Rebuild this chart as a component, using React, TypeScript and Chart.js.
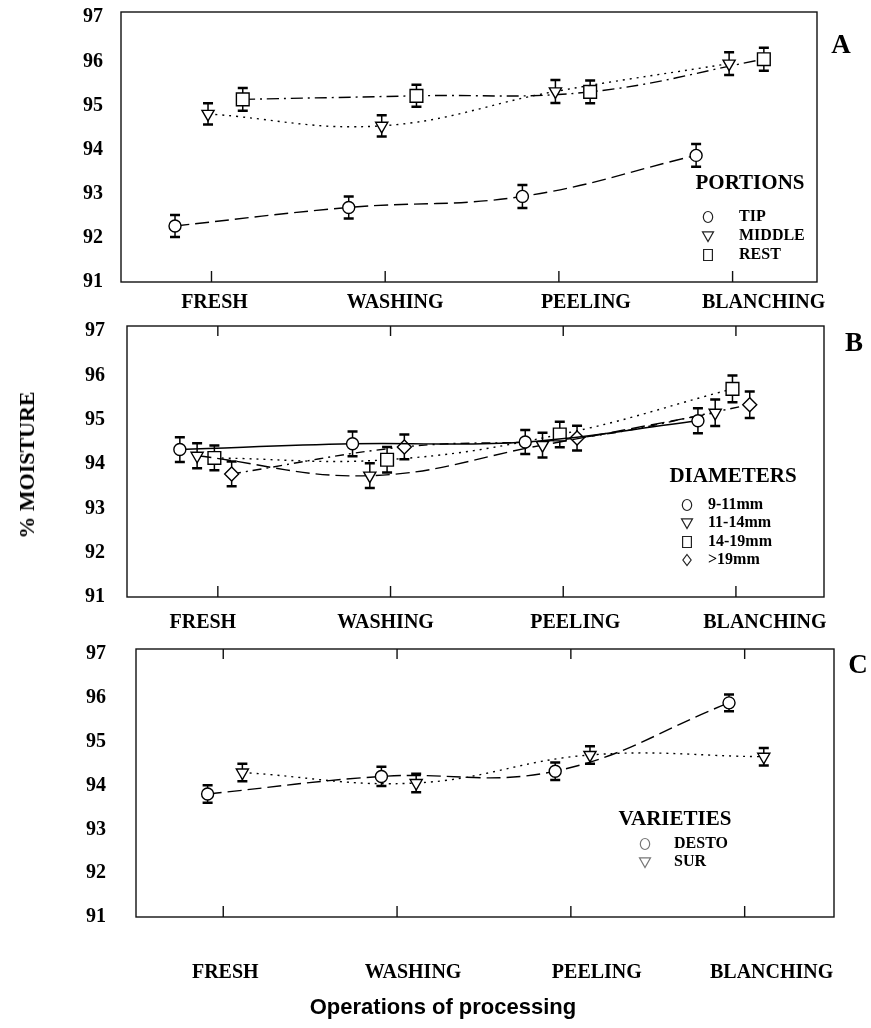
import React, { useEffect, useRef } from 'react';
import { Chart, registerables } from 'chart.js';
Chart.register(...registerables);

// ---------- data ----------
const CATEGORIES = ['FRESH', 'WASHING', 'PEELING', 'BLANCHING'];
const Y_TICKS = [91, 92, 93, 94, 95, 96, 97];

// Panel A – portions
const A_LABELS = ['TIP', 'MIDDLE', 'REST'];
const A_TIP = [92.27, 92.69, 92.94, 93.87];
const A_TIP_ERR = [0.25, 0.25, 0.26, 0.26];
const A_MIDDLE = [94.81, 94.54, 95.32, 95.95];
const A_MIDDLE_ERR = [0.24, 0.24, 0.26, 0.26];
const A_REST = [95.14, 95.22, 95.31, 96.05];
const A_REST_ERR = [0.26, 0.25, 0.26, 0.26];

// Panel B – diameters
const B_LABELS = ['9-11mm', '11-14mm', '14-19mm', '>19mm'];
const B_9_11 = [94.33, 94.46, 94.5, 94.98];
const B_9_11_ERR = [0.28, 0.28, 0.27, 0.28];
const B_11_14 = [94.19, 93.74, 94.43, 95.16];
const B_11_14_ERR = [0.28, 0.28, 0.28, 0.3];
const B_14_19 = [94.14, 94.1, 94.67, 95.7];
const B_14_19_ERR = [0.28, 0.29, 0.29, 0.3];
const B_19 = [93.78, 94.39, 94.59, 95.34];
const B_19_ERR = [0.28, 0.28, 0.28, 0.3];

// Panel C – varieties
const C_LABELS = ['DESTO', 'SUR'];
const C_DESTO = [93.81, 94.21, 94.33, 95.89];
const C_DESTO_ERR = [0.2, 0.22, 0.2, 0.19];
const C_SUR = [94.3, 94.06, 94.7, 94.66];
const C_SUR_ERR = [0.2, 0.21, 0.2, 0.2];

// ---------- styles ----------
const SERIF = '"Liberation Serif", "Times New Roman", serif';
const SANS = '"Liberation Sans", Arial, sans-serif';

type SeriesStyle = { shape: 'circle' | 'triangle' | 'rect' | 'rectRot'; dash: number[]; offset: number };

const SOLID: number[] = [];
const LONG_DASH = [14, 6];
const DOTTED = [2, 5];
const DASH_DOT = [12, 5, 2, 5];
const MED_DASH = [9, 5, 2, 5];

function drawShape(ctx: CanvasRenderingContext2D, shape: string, x: number, y: number, r: number) {
  ctx.beginPath();
  if (shape === 'circle') {
    ctx.ellipse(x, y, r * 0.85, r, 0, 0, Math.PI * 2);
  } else if (shape === 'triangle') {
    ctx.moveTo(x - r, y - r * 0.75);
    ctx.lineTo(x + r, y - r * 0.75);
    ctx.lineTo(x, y + r);
    ctx.closePath();
  } else if (shape === 'rect') {
    ctx.rect(x - r * 0.8, y - r, r * 1.6, r * 2);
  } else {
    ctx.moveTo(x, y - r);
    ctx.lineTo(x + r * 0.75, y);
    ctx.lineTo(x, y + r);
    ctx.lineTo(x - r * 0.75, y);
    ctx.closePath();
  }
  ctx.fillStyle = '#fff';
  ctx.fill();
  ctx.stroke();
}

type PanelProps = {
  top: number;
  height: number;
  area: { left: number; right: number; top: number; bottom: number };
  xMin: number;
  xMax: number;
  yTickPad: number;
  labelY: number;
  labelShift: number[];
  topTicks: boolean;
  series: { label: string; values: number[]; errors: number[]; style: SeriesStyle }[];
  legend: { title: string; titleX: number; titleY: number; symX: number; textX: number; ys: number[]; symColor: string };
};

function Panel(p: PanelProps) {
  const ref = useRef<HTMLCanvasElement | null>(null);
  useEffect(() => {
    if (!ref.current) return;
    const W = 871;
    const decoPlugin = {
      id: 'deco',
      beforeDatasetsDraw(chart: any) {
        const ctx = chart.ctx as CanvasRenderingContext2D;
        const a = chart.chartArea;
        const xs = chart.scales.x;
        const ys = chart.scales.y;
        ctx.save();
        // frame
        ctx.strokeStyle = '#111';
        ctx.lineWidth = 1.4;
        ctx.strokeRect(a.left, a.top, a.right - a.left, a.bottom - a.top);
        // inner category ticks
        CATEGORIES.forEach((_, i) => {
          const x = xs.getPixelForValue(i + 1);
          ctx.beginPath();
          ctx.moveTo(x, a.bottom);
          ctx.lineTo(x, a.bottom - 11);
          if (p.topTicks) {
            ctx.moveTo(x, a.top);
            ctx.lineTo(x, a.top + 10);
          }
          ctx.stroke();
        });
        // category labels
        ctx.fillStyle = '#000';
        ctx.font = `bold 20px ${SERIF}`;
        ctx.textAlign = 'center';
        ctx.textBaseline = 'middle';
        CATEGORIES.forEach((c, i) => {
          const x = xs.getPixelForValue(i + 1) + p.labelShift[i];
          ctx.fillText(c, x, p.labelY - p.top);
        });
        // error bars
        chart.data.datasets.forEach((ds: any, di: number) => {
          const meta = chart.getDatasetMeta(di);
          meta.data.forEach((pt: any, i: number) => {
            const v = ds.data[i].y;
            const e = ds.errors[i];
            const y1 = ys.getPixelForValue(v + e);
            const y2 = ys.getPixelForValue(v - e);
            ctx.strokeStyle = '#000';
            ctx.lineWidth = 1.5;
            ctx.setLineDash([]);
            ctx.beginPath();
            ctx.moveTo(pt.x, y1);
            ctx.lineTo(pt.x, y2);
            ctx.stroke();
            ctx.lineWidth = 2.5;
            ctx.beginPath();
            ctx.moveTo(pt.x - 5, y1);
            ctx.lineTo(pt.x + 5, y1);
            ctx.moveTo(pt.x - 5, y2);
            ctx.lineTo(pt.x + 5, y2);
            ctx.stroke();
          });
        });
        ctx.restore();
      },
      afterDraw(chart: any) {
        const ctx = chart.ctx as CanvasRenderingContext2D;
        const L = p.legend;
        ctx.save();
        ctx.fillStyle = '#000';
        ctx.font = `bold 21px ${SERIF}`;
        ctx.textAlign = 'center';
        ctx.textBaseline = 'middle';
        ctx.fillText(L.title, L.titleX, L.titleY - p.top);
        ctx.font = `bold 16px ${SERIF}`;
        ctx.textAlign = 'left';
        p.series.forEach((s, i) => {
          const y = L.ys[i] - p.top;
          ctx.fillStyle = '#000';
          ctx.fillText(s.label, L.textX, y);
          ctx.strokeStyle = L.symColor;
          ctx.lineWidth = 1.2;
          drawShape(ctx, s.style.shape, L.symX, y, 5.5);
        });
        ctx.restore();
      },
    };

    const datasets = p.series.map((s) => ({
      label: s.label,
      data: s.values.map((v, i) => ({ x: i + 1 + s.style.offset, y: v })),
      errors: s.errors,
      borderColor: '#000',
      borderWidth: 1.4,
      borderDash: s.style.dash,
      tension: 0.4,
      fill: false,
      pointStyle: s.style.shape,
      pointRotation: s.style.shape === 'triangle' ? 180 : 0,
      pointRadius: s.style.shape === 'rect' ? 9 : s.style.shape === 'circle' ? 6 : 7,
      pointBackgroundColor: '#fff',
      pointBorderColor: '#000',
      pointBorderWidth: 1.4,
    }));

    const chart = new Chart(ref.current, {
      type: 'line',
      data: { datasets: datasets as any },
      plugins: [decoPlugin],
      options: {
        animation: false,
        responsive: false,
        devicePixelRatio: 1,
        layout: {
          padding: {
            left: 0,
            top: p.area.top - p.top,
            right: W - p.area.right,
            bottom: p.top + p.height - p.area.bottom,
          },
        },
        plugins: { legend: { display: false }, tooltip: { enabled: false } },
        scales: {
          x: { type: 'linear', min: p.xMin, max: p.xMax, display: false },
          y: {
            type: 'linear',
            min: 91,
            max: 97.12,
            afterBuildTicks: (s: any) => {
              s.ticks = Y_TICKS.map((v) => ({ value: v }));
            },
            afterFit: (s: any) => {
              s.width = p.area.left;
              s.paddingTop = 0;
              s.paddingBottom = 0;
            },
            grid: { display: false, drawTicks: false },
            border: { display: false },
            ticks: {
              font: { family: SERIF, size: 20, weight: 'bold' },
              color: '#000',
              padding: p.yTickPad,
            },
          },
        },
      } as any,
    });
    return () => chart.destroy();
  }, []);
  return (
    <div style={{ position: 'absolute', left: 0, top: p.top, width: 871, height: p.height }}>
      <canvas ref={ref} width={871} height={p.height} style={{ width: 871, height: p.height, display: 'block' }} />
    </div>
  );
}

const txt = (x: number, y: number, size: number, family: string, extra: any = {}) => ({
  position: 'absolute' as const,
  left: x,
  top: y,
  transform: 'translate(-50%, -50%)' + (extra.rotate ? ` rotate(${extra.rotate}deg)` : ''),
  font: `bold ${size}px ${family}`,
  whiteSpace: 'nowrap' as const,
  color: '#000',
  lineHeight: 1,
});

export default function App() {
  const panelA: PanelProps = {
    top: 0,
    height: 330,
    area: { left: 121, right: 817, top: 12, bottom: 282 },
    xMin: 0.479,
    xMax: 4.486,
    yTickPad: 18,
    labelY: 303,
    labelShift: [3, 10, 27, 31],
    topTicks: false,
    series: [
      { label: A_LABELS[0], values: A_TIP, errors: A_TIP_ERR, style: { shape: 'circle', dash: LONG_DASH, offset: -0.21 } },
      { label: A_LABELS[1], values: A_MIDDLE, errors: A_MIDDLE_ERR, style: { shape: 'triangle', dash: DOTTED, offset: -0.02 } },
      { label: A_LABELS[2], values: A_REST, errors: A_REST_ERR, style: { shape: 'rect', dash: DASH_DOT, offset: 0.18 } },
    ],
    legend: { title: 'PORTIONS', titleX: 750, titleY: 184, symX: 708, textX: 739, ys: [217, 236, 255], symColor: '#222' },
  };
  const panelB: PanelProps = {
    top: 315,
    height: 330,
    area: { left: 127, right: 824, top: 326, bottom: 597 },
    xMin: 0.474,
    xMax: 4.51,
    yTickPad: 22,
    labelY: 623,
    labelShift: [-15, -5, 12, 29],
    topTicks: true,
    series: [
      { label: B_LABELS[0], values: B_9_11, errors: B_9_11_ERR, style: { shape: 'circle', dash: SOLID, offset: -0.22 } },
      { label: B_LABELS[1], values: B_11_14, errors: B_11_14_ERR, style: { shape: 'triangle', dash: LONG_DASH, offset: -0.12 } },
      { label: B_LABELS[2], values: B_14_19, errors: B_14_19_ERR, style: { shape: 'rect', dash: DOTTED, offset: -0.02 } },
      { label: B_LABELS[3], values: B_19, errors: B_19_ERR, style: { shape: 'rectRot', dash: MED_DASH, offset: 0.08 } },
    ],
    legend: { title: 'DIAMETERS', titleX: 733, titleY: 477, symX: 687, textX: 708, ys: [505, 523, 542, 560], symColor: '#222' },
  };
  const panelC: PanelProps = {
    top: 640,
    height: 360,
    area: { left: 136, right: 834, top: 649, bottom: 917 },
    xMin: 0.498,
    xMax: 4.514,
    yTickPad: 30,
    labelY: 973,
    labelShift: [2, 16, 26, 27],
    topTicks: true,
    series: [
      { label: C_LABELS[0], values: C_DESTO, errors: C_DESTO_ERR, style: { shape: 'circle', dash: LONG_DASH, offset: -0.09 } },
      { label: C_LABELS[1], values: C_SUR, errors: C_SUR_ERR, style: { shape: 'triangle', dash: DOTTED, offset: 0.11 } },
    ],
    legend: { title: 'VARIETIES', titleX: 675, titleY: 820, symX: 645, textX: 674, ys: [844, 862], symColor: '#777' },
  };
  return (
    <div style={{ position: 'absolute', left: 0, top: 0, width: 871, height: 1028, background: '#fff', overflow: 'hidden' }}>
      <Panel {...panelA} />
      <Panel {...panelB} />
      <Panel {...panelC} />
      <div style={txt(841, 44, 27, SERIF)}>A</div>
      <div style={txt(854, 342, 27, SERIF)}>B</div>
      <div style={txt(858, 664, 27, SERIF)}>C</div>
      <div style={txt(27, 465, 22, SERIF, { rotate: -90 })}>% MOISTURE</div>
      <div style={txt(443, 1007, 22, SANS)}>Operations of processing</div>
    </div>
  );
}
